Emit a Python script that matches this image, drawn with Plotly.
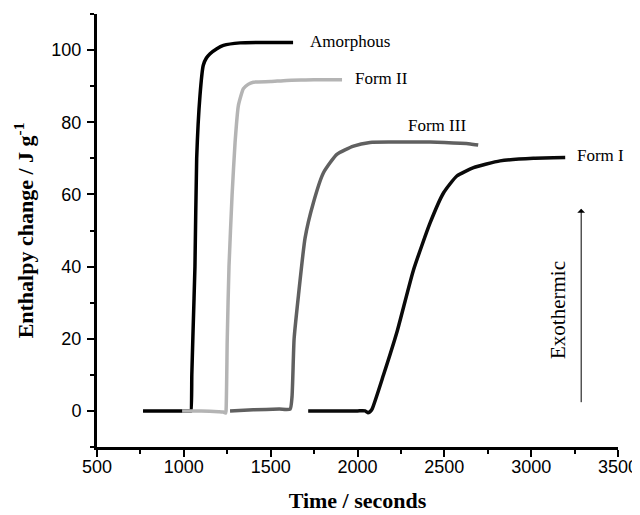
import plotly.graph_objects as go

# Amorphous
amor_x = [765, 1000, 1036, 1041, 1046, 1053, 1064, 1074, 1093, 1112, 1130, 1151, 1190, 1228, 1324, 1450, 1629]
amor_y = [0, 0, 0, 0, 10, 22, 40, 70, 87.4, 95.8, 97.8, 99, 100.4, 101.3, 102, 102.1, 102.1]

# Form II
f2_x = [990, 1100, 1200, 1226, 1240, 1243, 1250, 1260, 1278, 1295, 1314, 1343, 1370, 1400, 1500, 1592, 1700, 1800, 1911]
f2_y = [0, 0, -0.2, -0.3, -0.6, 0, 20, 40, 60, 74.4, 84.6, 89.3, 90.5, 91.1, 91.3, 91.6, 91.7, 91.8, 91.8]

# Form III
f3_x = [1266, 1400, 1550, 1612, 1623, 1635, 1660, 1698, 1746, 1804, 1881, 1977, 2072, 2200, 2418, 2500, 2650, 2695]
f3_y = [0, 0.3, 0.5, 0.5, 4, 20, 32, 47.9, 57.7, 66, 71.1, 73.4, 74.4, 74.5, 74.5, 74.4, 74.0, 73.7]

# Form I
f1_x = [1716, 1850, 2000, 2044, 2060, 2070, 2084, 2150, 2228, 2322, 2418, 2495, 2572, 2668, 2821, 3013, 3196]
f1_y = [0, 0, 0, 0, -0.5, -0.3, 0.5, 10, 22, 39, 52.1, 60.4, 65.1, 67.4, 69.3, 70, 70.2]

labels = ["Amorphous", "Form II", "Form III", "Form I"]
label_x = [1715, 1975, 2280, 3253]
label_y = [102.4, 92, 79.2, 70.8]

fig = go.Figure()
series = [(amor_x, amor_y, "#000000"), (f2_x, f2_y, "#b4b4b4"),
          (f3_x, f3_y, "#606060"), (f1_x, f1_y, "#0a0a0a")]
for xs, ys, c in series:
    fig.add_trace(go.Scatter(x=xs, y=ys, mode="lines",
                             line=dict(color=c, width=3.5, shape="spline", smoothing=0.5),
                             showlegend=False))

for t, x, y in zip(labels, label_x, label_y):
    fig.add_annotation(x=x, y=y, text=t, showarrow=False, xanchor="left", yanchor="middle",
                       font=dict(family="Liberation Serif", size=17, color="#000"))

fig.add_annotation(x=3288, y=56, ax=3288, ay=2, axref="x", ayref="y", xref="x", yref="y",
                   showarrow=True, arrowhead=1, arrowsize=1.3, arrowwidth=1, arrowcolor="#000", text="")
fig.add_annotation(x=3155, y=28, text="Exothermic", showarrow=False, textangle=-90,
                   font=dict(family="Liberation Serif", size=21, color="#000"))

axis_common = dict(showline=True, linecolor="#000", linewidth=3, ticks="outside",
                   tickwidth=2, ticklen=7, tickcolor="#000", showgrid=False, zeroline=False,
                   tickfont=dict(family="Liberation Sans", size=18, color="#000"),
                   automargin=False, mirror=False)

# page body has an 8px margin, so the figure is sized 632x507 to fill the 640x515 window
fig.update_layout(
    width=632, height=507, plot_bgcolor="white", paper_bgcolor="white",
    margin=dict(l=89, r=22, t=6, b=68),
    xaxis=dict(range=[500, 3500], tickvals=[500, 1000, 1500, 2000, 2500, 3000, 3500],
               ticklabelstandoff=-6,
               minor=dict(dtick=250, tick0=500, ticks="outside",
                          ticklen=4, tickwidth=2, tickcolor="#000", showgrid=False),
               title=dict(text="<b>Time / seconds</b>", standoff=18,
                          font=dict(family="Liberation Serif", size=22, color="#000")),
               **axis_common),
    yaxis=dict(range=[-10, 110], tickvals=[0, 20, 40, 60, 80, 100],
               ticklabelstandoff=2,
               minor=dict(dtick=10, tick0=0, ticks="outside",
                          ticklen=4, tickwidth=2, tickcolor="#000", showgrid=False),
               title=dict(text="<b>Enthalpy change / J g<sup>-1</sup></b>", standoff=12,
                          font=dict(family="Liberation Serif", size=22, color="#000")),
               **axis_common),
)

fig.write_html("out.html")
